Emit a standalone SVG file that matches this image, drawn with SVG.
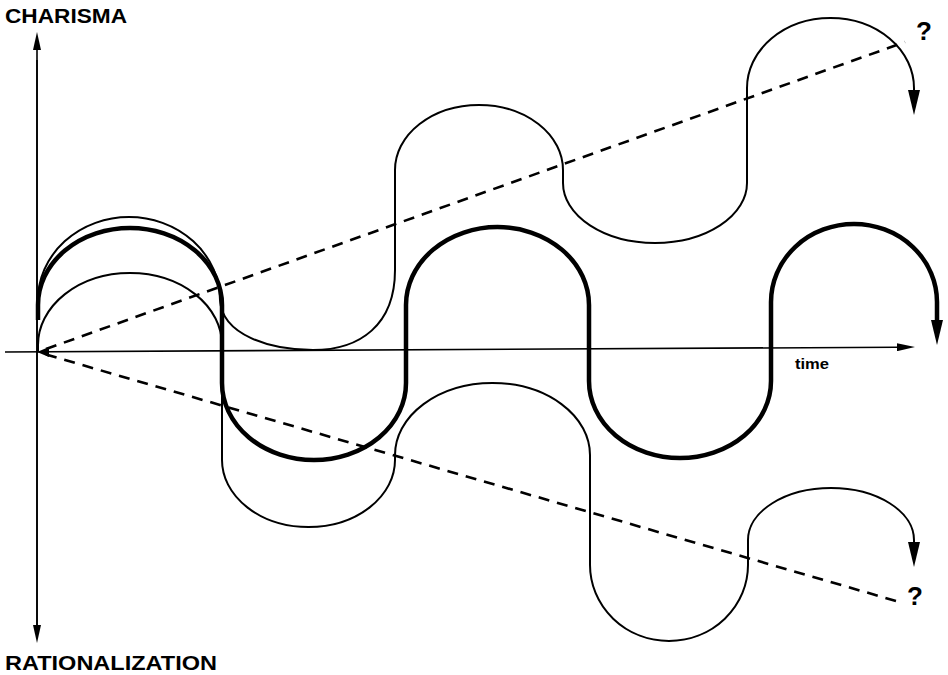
<svg xmlns="http://www.w3.org/2000/svg" width="948" height="675" viewBox="0 0 948 675">
<style>
.lbl{font-family:"Liberation Sans",Arial,sans-serif;font-weight:bold;fill:#000}
.thin{fill:none;stroke:#000;stroke-width:2}
.thick{fill:none;stroke:#000;stroke-width:4.5}
.axis{fill:none;stroke:#000;stroke-width:1.6}
.dash{fill:none;stroke:#000;stroke-width:2.6;stroke-dasharray:11 8}
</style>
<defs>
<marker id="ah" viewBox="0 0 25 12" refX="0" refY="6" markerWidth="25" markerHeight="12" markerUnits="userSpaceOnUse" orient="auto"><path d="M0,0 L25,6 L0,12 z" fill="#000"/></marker>
<marker id="ahs" viewBox="0 0 18 8" refX="0" refY="4" markerWidth="18" markerHeight="8" markerUnits="userSpaceOnUse" orient="auto"><path d="M0,0 L18,4 L0,8 z" fill="#000"/></marker>
</defs>
<rect width="948" height="675" fill="#fff"/>
<g id="axes">
<line class="axis" x1="37" y1="626" x2="37" y2="50" marker-end="url(#ahs)"/>
<line class="axis" x1="37" y1="60" x2="37" y2="625" marker-end="url(#ahs)"/>
<line class="axis" x1="5" y1="352" x2="897" y2="347.2" marker-end="url(#ahs)"/>
</g>
<g id="trends">
<line class="dash" x1="46" y1="349" x2="905" y2="42"/>
<line class="dash" x1="46" y1="354.5" x2="903" y2="603"/>
<polygon points="37,352 49,347 49,357" fill="#000"/>
</g>
<g id="curves">
<path id="upper" class="thin" d="M38,318 L38,300 A91,83 0 0 1 220,300 C222,335 270,350 313,350 C360,350 395,325 395,270 L395,170 A84,65 0 0 1 563,170 L563,183 A92,60 0 0 0 747,183 L747,88 A83.5,70 0 0 1 914,88 L914,90" marker-end="url(#ah)"/>
<path id="lower" class="thin" d="M38,351 L38,345 A92,72 0 0 1 222,345 L222,460 A86.5,67 0 0 0 395,460 L395,455 A97.5,72 0 0 1 590,455 L590,565 A79,76 0 0 0 748,565 L748,540 A83,52 0 0 1 914,540 L914,542" marker-end="url(#ah)"/>
<path id="middle" class="thick" d="M38,320 L38,305 A92,77 0 0 1 222,305 L222,383 A92,77 0 0 0 406,383 L406,305 A91.5,78 0 0 1 589,305 L589,381 A91,77 0 0 0 771,381 L771,302 A83,78 0 0 1 937,302 L937,320" marker-end="url(#ah)"/>
</g>
<g id="labels">
<text class="lbl" x="5" y="23" font-size="21" textLength="122" lengthAdjust="spacingAndGlyphs">CHARISMA</text>
<text class="lbl" x="5" y="670" font-size="21" textLength="212" lengthAdjust="spacingAndGlyphs">RATIONALIZATION</text>
<text class="lbl" x="795" y="369" font-size="14" textLength="34" lengthAdjust="spacingAndGlyphs">time</text>
<text class="lbl" x="916" y="40" font-size="26">?</text>
<text class="lbl" x="907" y="605" font-size="26">?</text>
</g>
</svg>
